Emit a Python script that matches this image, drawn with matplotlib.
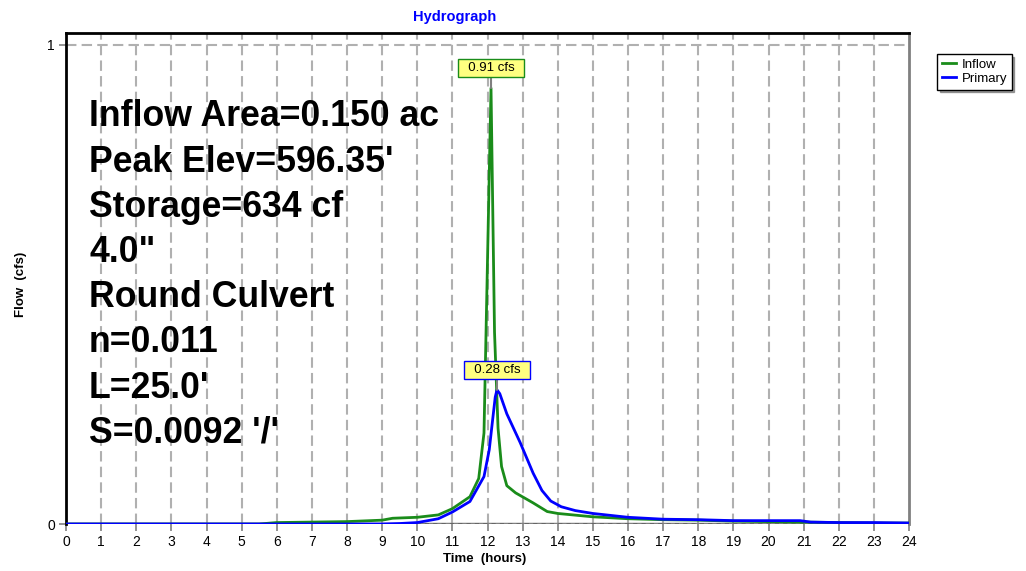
import numpy as np
import matplotlib.pyplot as plt
from matplotlib import font_manager

# use the regular-width Liberation Sans files (not the Narrow cut)
reg_file = None
bold_file = None
for f in font_manager.findSystemFonts():
    name = f.split('/')[-1]
    if name == 'LiberationSans-Regular.ttf':
        reg_file = f
    if name == 'LiberationSans-Bold.ttf':
        bold_file = f
if reg_file:
    font_manager.fontManager.addfont(reg_file)
if bold_file:
    font_manager.fontManager.addfont(bold_file)
plt.rcParams['font.family'] = ['Liberation Sans', 'DejaVu Sans']
big = font_manager.FontProperties(fname=bold_file, size=25.7) if bold_file else \
    font_manager.FontProperties(family='Liberation Sans', weight='bold', size=25.7)

# inflow hydrograph (hours, cfs)
t_in = [0, 5.5, 6, 7, 8, 9, 9.3, 10, 10.6, 11, 11.5, 11.75, 11.9, 12.0, 12.1,
        12.2, 12.3, 12.4, 12.55, 12.8, 13.3, 13.7, 14, 15, 16, 17, 18, 19, 20, 21, 22, 23, 24]
q_in = [0, 0.0, 0.003, 0.004, 0.005, 0.008, 0.012, 0.014, 0.019, 0.032, 0.057, 0.095, 0.19, 0.55, 0.91,
        0.40, 0.20, 0.12, 0.08, 0.065, 0.044, 0.026, 0.022, 0.015, 0.011, 0.009, 0.008, 0.006, 0.005, 0.004, 0.003, 0.002, 0.002]

# primary outflow (hours, cfs)
t_pr = [0, 9, 9.5, 10, 10.6, 11, 11.5, 11.9, 12.05, 12.15, 12.22, 12.27, 12.35, 12.55, 12.93, 13.3, 13.55,
        13.8, 14.1, 14.5, 15, 16, 17, 18, 19, 20, 20.9, 21.2, 22, 23, 24]
q_pr = [0, 0.0, 0.001, 0.003, 0.011, 0.025, 0.047, 0.099, 0.155, 0.22, 0.265, 0.28, 0.272, 0.23, 0.17, 0.106, 0.07,
        0.048, 0.036, 0.028, 0.022, 0.014, 0.010, 0.009, 0.007, 0.007, 0.007, 0.004, 0.003, 0.003, 0.002]

peak_in = 0.91
peak_pr = 0.28

info = ["Inflow Area=0.150 ac", "Peak Elev=596.35'", "Storage=634 cf", '4.0"',
        "Round Culvert", "n=0.011", "L=25.0'", "S=0.0092 '/'"]

fig = plt.figure(figsize=(10.26, 5.71), dpi=100)
ax = fig.add_axes([66/1026, 47/571, 843/1026, 491/571])

ax.set_xlim(0, 24)
ax.set_ylim(0, 1.025)

grid = dict(color='#b0b0b0', lw=1.5, ls=(0, (5, 2.5)), zorder=1)
for h in range(1, 24):
    ax.axvline(h, **grid)
ax.axhline(1, **grid)

ax.plot(t_in, q_in, color='#1a8c1a', lw=2, label='Inflow', zorder=4)
ax.plot(t_pr, q_pr, color='#0000ff', lw=2, label='Primary', zorder=5)

ax.axhline(0, color='#808080', lw=2.5, zorder=2)
ax.axhline(0, color='black', lw=1, ls=(0, (3, 3)), zorder=3)

for side in ['top', 'left']:
    ax.spines[side].set_color('black')
    ax.spines[side].set_linewidth(2)
ax.spines['right'].set_color('#808080')
ax.spines['right'].set_linewidth(2)
ax.spines['bottom'].set_visible(False)

ax.set_xticks(range(25))
ax.set_yticks([0, 1])
ax.set_yticklabels(['0', '1'])
ax.tick_params(axis='both', labelsize=10, color='#808080', length=5, width=1.2, pad=3)
ax.tick_params(axis='x', pad=3)

ax.set_xlabel('Time  (hours)', fontsize=9.5, fontweight='bold')
ax.xaxis.set_label_coords((485 - 66)/843, -(553 - 524)/491)
ax.set_ylabel('Flow  (cfs)', fontsize=9.5, fontweight='bold')
ax.yaxis.set_label_coords(-(66 - 27)/843, (524 - 284)/491)

fig.text(455/1026, 1 - 17/571, 'Hydrograph', color='#0000ff', fontsize=10.5,
         fontweight='bold', ha='center', va='center')

# peak labels
t_pk_in = t_in[q_in.index(peak_in)]
t_pk_pr = t_pr[q_pr.index(peak_pr)]
ax.annotate('  %.2f cfs  ' % peak_in, xy=(t_pk_in, peak_in), xytext=(t_pk_in, peak_in + 0.042),
            ha='center', va='center', fontsize=9.5,
            bbox=dict(boxstyle='square,pad=0.22', fc='#ffff80', ec='#1a8c1a', lw=1),
            arrowprops=dict(arrowstyle='-', color='#808080', lw=1.5, shrinkA=0, shrinkB=0), zorder=6)
ax.annotate('  %.2f cfs  ' % peak_pr, xy=(t_pk_pr, peak_pr), xytext=(t_pk_pr, peak_pr + 0.042),
            ha='center', va='center', fontsize=9.5,
            bbox=dict(boxstyle='square,pad=0.22', fc='#ffff80', ec='#0000ff', lw=1),
            arrowprops=dict(arrowstyle='-', color='#808080', lw=1.5, shrinkA=0, shrinkB=0), zorder=6)

# culvert info block
for i, s in enumerate(info):
    fig.text(89/1026, 1 - (117 + i*45.2)/571, s, fontproperties=big,
             ha='left', va='center', color='black')

leg = fig.legend(loc='upper left', bbox_to_anchor=(937/1026, 1 - 54/571), fontsize=9.5,
                 frameon=True, fancybox=False, shadow=True, handlelength=1.1,
                 handletextpad=0.4, borderpad=0.35, labelspacing=0.15, borderaxespad=0)
leg.get_frame().set_edgecolor('black')
leg.get_frame().set_linewidth(1)

fig.savefig('out.png', dpi=100)
